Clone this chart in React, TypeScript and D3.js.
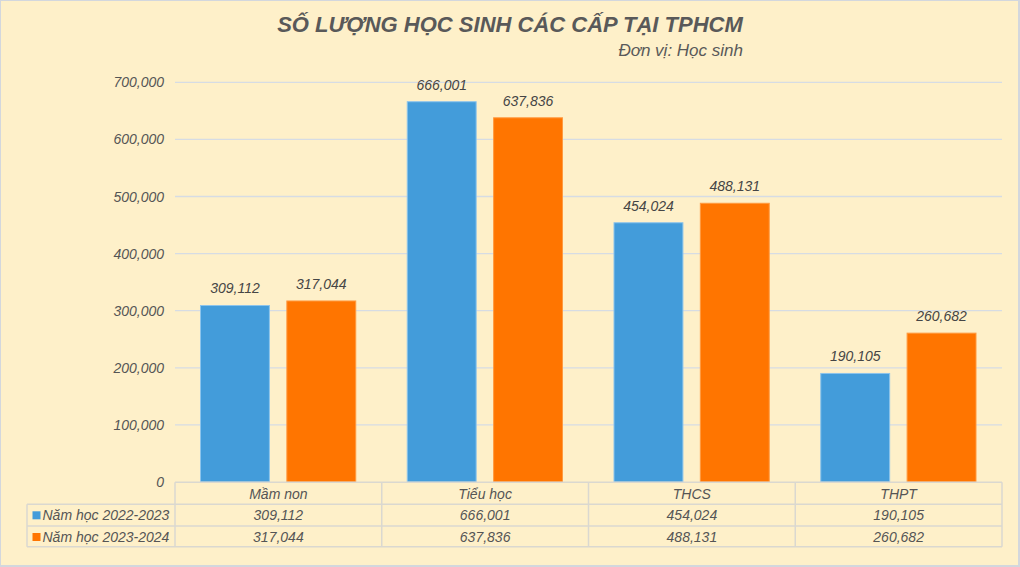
import React from "react";
import * as d3 from "d3";

const categories = ["Mầm non", "Tiểu học", "THCS", "THPT"];
const seriesNames = ["Năm học 2022-2023", "Năm học 2023-2024"];
const values2022 = [309112, 666001, 454024, 190105];
const values2023 = [317044, 637836, 488131, 260682];
const yTicks = [0, 100000, 200000, 300000, 400000, 500000, 600000, 700000];
const colors = ["#439CDA", "#FF7500"];
const strokeColors = ["#8CC4EC", "#FF9A40"];

const W = 1020;
const H = 567;
const FONT = "'Liberation Sans', Arial, sans-serif";

export default function App() {
  const seriesValues = [values2022, values2023];
  const x0 = d3.scaleBand<string>().domain(categories).range([175, 1002]);
  const x1 = d3
    .scaleBand<string>()
    .domain(seriesNames)
    .range([25.5, x0.bandwidth() - 26])
    .paddingInner(0.202);
  const y = d3.scaleLinear().domain([0, 700000]).range([482, 82.3]);
  const fmt = d3.format(",");
  const rowTops = [482.3, 504.3, 526, 546.7];
  const textColor = "#555555";
  const tableLine = "#DAD8D0";

  return (
    <svg
      width={W}
      height={H}
      style={{ position: "absolute", left: 0, top: 0, display: "block" }}
      fontFamily={FONT}
    >
      <rect x={0} y={0} width={W} height={H} fill="#D3D7DD" />
      <rect x={1} y={1} width={W - 3} height={H - 3} fill="#FEF0C9" />
      <text
        x={510}
        y={32}
        textAnchor="middle"
        fontSize={22}
        fontWeight="bold"
        fontStyle="italic"
        fill="#595959"
      >
        SỐ LƯỢNG HỌC SINH CÁC CẤP TẠI TPHCM
      </text>
      <text
        x={743}
        y={56}
        textAnchor="end"
        fontSize={17}
        fontStyle="italic"
        fill="#595959"
      >
        Đơn vị: Học sinh
      </text>
      {yTicks.map((t) => (
        <g key={t}>
          {t > 0 && (
            <line
              x1={175}
              x2={1002}
              y1={y(t)}
              y2={y(t)}
              stroke="#D6DCE4"
              strokeWidth={1.3}
            />
          )}
          <text
            x={164}
            y={y(t) + 5}
            textAnchor="end"
            fontSize={14}
            fontStyle="italic"
            fill={textColor}
          >
            {fmt(t)}
          </text>
        </g>
      ))}
      {categories.map((c, ci) => (
        <g key={c} transform={`translate(${x0(c)},0)`}>
          {seriesNames.map((s, si) => {
            const v = seriesValues[si][ci];
            const bx = x1(s)!;
            const bw = x1.bandwidth();
            return (
              <g key={s}>
                <rect
                  x={bx}
                  y={y(v)}
                  width={bw}
                  height={y(0) - y(v)}
                  fill={colors[si]}
                  stroke={strokeColors[si]}
                  strokeWidth={1}
                />
                <text
                  x={bx + bw / 2}
                  y={y(v) - 12}
                  textAnchor="middle"
                  fontSize={14}
                  fontStyle="italic"
                  fill="#454545"
                >
                  {fmt(v)}
                </text>
              </g>
            );
          })}
        </g>
      ))}
      {/* data table */}
      <g fill="none" stroke={tableLine} strokeWidth={1.5}>
        <line x1={175} x2={1002} y1={rowTops[0]} y2={rowTops[0]} />
        <line x1={27} x2={1002} y1={rowTops[1]} y2={rowTops[1]} />
        <line x1={27} x2={1002} y1={rowTops[2]} y2={rowTops[2]} />
        <line x1={27} x2={1002} y1={rowTops[3]} y2={rowTops[3]} />
        <line x1={27} x2={27} y1={rowTops[1]} y2={rowTops[3]} />
        {categories.map((c) => (
          <line
            key={c}
            x1={x0(c)!}
            x2={x0(c)!}
            y1={rowTops[0]}
            y2={rowTops[3]}
          />
        ))}
        <line x1={1002} x2={1002} y1={rowTops[0]} y2={rowTops[3]} />
      </g>
      {categories.map((c, ci) => {
        const cx = x0(c)! + x0.bandwidth() / 2;
        return (
          <g key={c} fontSize={14} fontStyle="italic" fill={textColor} textAnchor="middle">
            <text x={cx} y={rowTops[0] + 16.5}>
              {c}
            </text>
            {seriesNames.map((s, si) => (
              <text key={s} x={cx} y={rowTops[si + 1] + 16}>
                {fmt(seriesValues[si][ci])}
              </text>
            ))}
          </g>
        );
      })}
      {seriesNames.map((s, si) => (
        <g key={s}>
          <rect
            x={32.5}
            y={rowTops[si + 1] + 7}
            width={8}
            height={8}
            fill={colors[si]}
          />
          <text
            x={42.5}
            y={rowTops[si + 1] + 16}
            fontSize={14}
            fontStyle="italic"
            fill={textColor}
          >
            {s}
          </text>
        </g>
      ))}
    </svg>
  );
}
